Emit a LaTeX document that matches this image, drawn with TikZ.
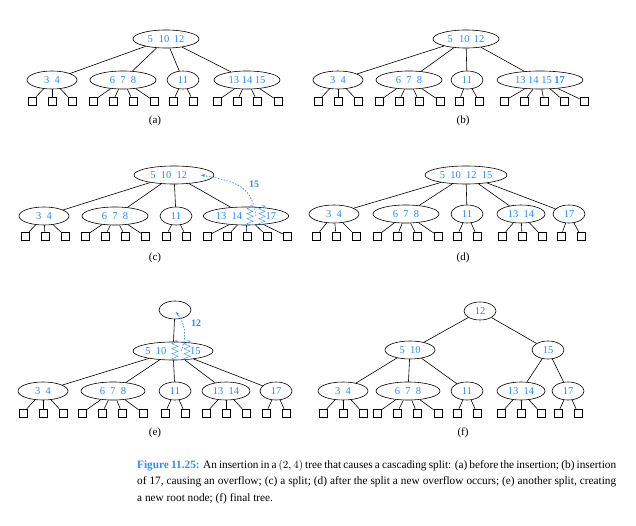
\documentclass[tikz,border=0pt]{standalone}
\usepackage{fontspec}
\setmainfont{Liberation Serif}
\usetikzlibrary{shapes.geometric,decorations.pathmorphing,arrows.meta}
\definecolor{kb}{RGB}{40,140,255}
\tikzset{
 tn/.style={ellipse,draw,line width=0.6pt,minimum height=18pt,inner sep=0pt,font=\fontsize{10.5}{12}\selectfont,text=kb},
 sq/.style={draw,line width=0.6pt,minimum size=8pt,inner sep=0pt},
 ed/.style={line width=0.6pt},
 zz/.style={draw=kb,line width=0.4pt,decorate,decoration={zigzag,segment length=5pt,amplitude=3pt}},
 mv/.style={draw=kb,line width=0.7pt,dash pattern=on 1.5pt off 1.5pt,-{Stealth[length=4pt]}},
 lab/.style={font=\fontsize{11}{13}\selectfont},
 bl/.style={text=kb,font=\bfseries\fontsize{10}{12}\selectfont}
}
\newcommand{\lvs}[3]{\foreach \xx [count=\i] in {#2}{\node[sq] (#1l\i) at (\xx,#3) {}; \draw[ed] (#1) -- (#1l\i);}}
\begin{document}
\begin{tikzpicture}[x=1pt,y=-1pt]
\useasboundingbox (0,0) rectangle (636,526);
% (a)
\node[tn,minimum width=66pt] (ar) at (166,39) {5\,\ \,10\,\ 12};
\node[tn,minimum width=50pt] (aa) at (52,80) {3\ \ 4};
\node[tn,minimum width=66pt] (ab) at (123,80) {6\ \ 7\ \ 8};
\node[tn,minimum width=32pt] (ac) at (183,80) {11};
\node[tn,minimum width=66pt] (ad) at (247,80) {13\ 14\ 15};
\foreach \c in {aa,ab,ac,ad} \draw[ed] (ar) -- (\c);
\lvs{aa}{32,52,72}{101}\lvs{ab}{93,113,133,154}{101}\lvs{ac}{173,193}{101}\lvs{ad}{217,237,257,278}{101}
\node[lab] (la) at (155,121) {(a)};
% (b)
\node[tn,minimum width=66pt] (br) at (466,39) {5\,\ \,10\,\ 12};
\node[tn,minimum width=50pt] (ba) at (338,80) {3\ \ 4};
\node[tn,minimum width=66pt] (bb) at (409,80) {6\ \ 7\ \ 8};
\node[tn,minimum width=32pt] (bc) at (467,80) {11};
\node[tn,minimum width=86pt] (bd) at (540,80) {13\ 14\ 15\ \textbf{17}};
\foreach \c in {ba,bb,bc,bd} \draw[ed] (br) -- (\c);
\lvs{ba}{318,338,358}{101}\lvs{bb}{379,399,419,440}{101}\lvs{bc}{459,479}{101}\lvs{bd}{504,524,544,564,584}{101}
\node[lab] (lb) at (463,121) {(b)};
% (c)
\node[tn,minimum width=80pt] (cr) at (174,175) {5\ \ 10\ \ 12\ \ \ \ \ };
\node[tn,minimum width=50pt] (ca) at (44,216) {3\ \ 4};
\node[tn,minimum width=66pt] (cb) at (115,216) {6\ \ 7\ \ 8};
\node[tn,minimum width=32pt] (cc) at (176,216) {11};
\node[tn,minimum width=84pt] (cd) at (246,216) {13\ \ 14\ \ \ \ \ \ \ \ \ 17};
\foreach \c in {ca,cb,cc,cd} \draw[ed] (cr) -- (\c);
\lvs{ca}{25,45,65}{236}\lvs{cb}{85,105,125,145}{236}\lvs{cc}{166,186}{236}\lvs{cd}{207,227,247,267,287}{236}
\draw[zz] (250,205) -- (250,226);
\draw[zz] (262,205) -- (262,226);
\coordinate (cs) at (256,216);
\coordinate (ct) at (201,175);
\draw[mv] (cs) .. controls (252,188) and (240,182) .. (ct);
\node[bl] (c15) at (254,184) {15};
\node[lab] (lc) at (155,258) {(c)};
% (d)
\node[tn,minimum width=82pt] (dr) at (466,175) {5\ \ 10\ \ 12\ \ 15};
\node[tn,minimum width=50pt] (da) at (334,214) {3\ \ 4};
\node[tn,minimum width=66pt] (db) at (406,214) {6\ \ 7\ \ 8};
\node[tn,minimum width=32pt] (dc) at (467,214) {11};
\node[tn,minimum width=48pt] (dd) at (521,214) {13\ \ 14};
\node[tn,minimum width=32pt] (de) at (569,214) {17};
\foreach \c in {da,db,dc,dd,de} \draw[ed] (dr) -- (\c);
\lvs{da}{316,336,356}{236}\lvs{db}{377,397,417,438}{236}\lvs{dc}{457,477}{236}\lvs{dd}{502,522,542}{236}\lvs{de}{561,581}{236}
\node[lab] (ld) at (463,258) {(d)};
% (e)
\node[tn,minimum width=32pt] (et) at (175,310) {};
\node[tn,minimum width=80pt] (er) at (173,351) {5\ \ 10\ \ \ \ \ \ \ \ \ 15};
\node[tn,minimum width=50pt] (ea) at (43,391) {3\ \ 4};
\node[tn,minimum width=64pt] (eb) at (113,391) {6\ \ 7\ \ 8};
\node[tn,minimum width=32pt] (ec) at (175,391) {11};
\node[tn,minimum width=48pt] (ed) at (226,391) {13\ \ 14};
\node[tn,minimum width=32pt] (ee) at (276,391) {17};
\draw[ed] (et) -- (er);
\foreach \c in {ea,eb,ec,ed,ee} \draw[ed] (er) -- (\c);
\lvs{ea}{23,43,63}{413}\lvs{eb}{82,102,122,143}{413}\lvs{ec}{165,185}{413}\lvs{ed}{206,226,246}{413}\lvs{ee}{266,286}{413}
\draw[zz] (175,340) -- (175,361);
\draw[zz] (187,340) -- (187,361);
\coordinate (es) at (181,351);
\coordinate (ee2) at (176,312);
\draw[mv] (es) .. controls (188,335) and (184,322) .. (ee2);
\node[bl] (e12) at (196,323) {12};
\node[lab] (le) at (155,433) {(e)};
% (f)
\node[tn,minimum width=32pt] (fr) at (480,311) {12};
\node[tn,minimum width=50pt] (fl) at (410,350) {5\ \ 10};
\node[tn,minimum width=32pt] (fm) at (548,350) {15};
\node[tn,minimum width=50pt] (fa) at (343,391) {3\ \ 4};
\node[tn,minimum width=64pt] (fb) at (408,391) {6\ \ 7\ \ 8};
\node[tn,minimum width=32pt] (fc) at (467,391) {11};
\node[tn,minimum width=48pt] (fd) at (521,391) {13\ \ 14};
\node[tn,minimum width=32pt] (fe) at (568,391) {17};
\draw[ed] (fr) -- (fl); \draw[ed] (fr) -- (fm);
\foreach \c in {fa,fb,fc} \draw[ed] (fl) -- (\c);
\foreach \c in {fd,fe} \draw[ed] (fm) -- (\c);
\lvs{fa}{323,343,363}{413}\lvs{fb}{377,397,417,438}{413}\lvs{fc}{457,477}{413}\lvs{fd}{501,521,541}{413}\lvs{fe}{558,578}{413}
\node[lab] (lf) at (463,433) {(f)};
% caption
\node[anchor=north west,inner sep=0pt,text width=479pt,align=justify,font=\fontsize{11.3}{16.5}\selectfont] (cap) at (137,460)
{{\color{kb}\bfseries Figure 11.25:} An insertion in a $(2,4)$ tree that causes a cascading split: (a) before the insertion; (b) insertion of 17, causing an overflow; (c) a split; (d) after the split a new overflow occurs; (e) another split, creating a new root node; (f) final tree.};
\end{tikzpicture}
\end{document}
